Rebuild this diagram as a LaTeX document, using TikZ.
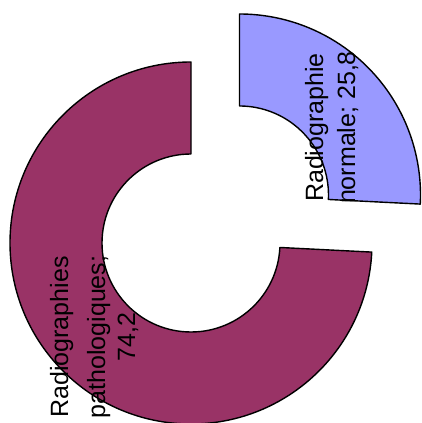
\documentclass[tikz,border=0pt]{standalone}
\usepackage{fontspec}
\setmainfont{Liberation Sans}
\definecolor{purp}{HTML}{993366}
\definecolor{lblue}{HTML}{9999FF}
\begin{document}
\begin{tikzpicture}[x=1pt,y=1pt,
  slice/.style={draw=black,line width=1.4pt,line join=round},
  lbl/.style={rotate=90,anchor=base,inner sep=0pt,font=\fontsize{25}{30}\selectfont}]
\useasboundingbox (0,0) rectangle (422,423);
\coordinate (P) at (191,180);
\coordinate (B) at (239.5,228);
% purple slice (74,2 %)
\draw[slice,fill=purp] ([shift={(90:181)}]P) arc[start angle=90,end angle=357.12,radius=181]
  -- ([shift={(357.12:89)}]P) arc[start angle=357.12,end angle=90,radius=89] -- cycle;
% blue slice (25,8 %)
\draw[slice,fill=lblue] ([shift={(90:181)}]B) arc[start angle=90,end angle=-2.88,radius=181]
  -- ([shift={(-2.88:89)}]B) arc[start angle=-2.88,end angle=90,radius=89] -- cycle;
% labels
\node[lbl] (n1) at (323,295.5) {Radiographie};
\node[lbl] (n2) at (355,295.5) {normale; 25,8};
\node[lbl] (p1) at (68,86) {Radiographies};
\node[lbl] (p2) at (105,86) {pathologiques;};
\node[lbl] (p3) at (135,86) {74,2};
\end{tikzpicture}
\end{document}
